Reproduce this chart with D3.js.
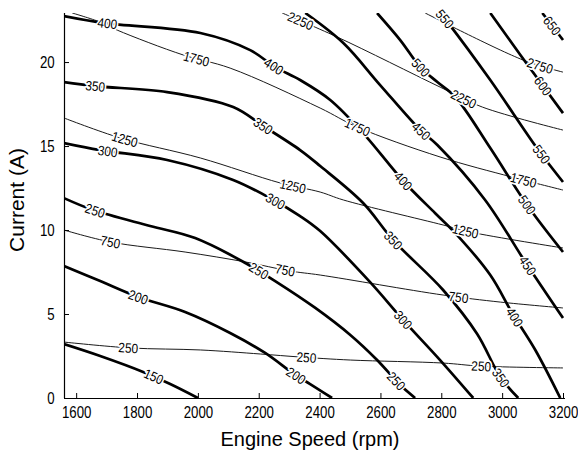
<!DOCTYPE html>
<html><head><meta charset="utf-8">
<script src="https://cdn.jsdelivr.net/npm/d3@7"></script>
<style>
html,body{margin:0;padding:0;background:#fff;}
svg{display:block;font-family:"Liberation Sans",Arial,sans-serif;}
</style></head>
<body><svg id="chart" width="578" height="454"></svg>
<script>
// axis ticks
const rpmTicks = [1600, 1800, 2000, 2200, 2400, 2600, 2800, 3000, 3200];
const currentTicks = [0, 5, 10, 15, 20];

// heavy contour family: [engine speed (rpm), current (A)]
const heavy150 = [[1560,3.21],[1679,2.5],[1820,1.55],[1909,0.83],[2000,0]];
const heavy200 = [[1560,7.86],[1679,6.96],[1804,6.01],[1958,5.12],[2106,3.87],[2221,2.68],[2320,1.37],[2369,0.83],[2441,0]];
const heavy250 = [[1560,11.9],[1656,11.19],[1843,10.24],[1991,9.52],[2156,8.04],[2254,6.96],[2386,5.36],[2501,3.75],[2589,2.26],[2665,0.77],[2714,0]];
const heavy300 = [[1560,15.18],[1679,14.76],[1899,14.17],[2116,12.98],[2248,11.79],[2336,10.83],[2402,9.94],[2566,6.9],[2675,4.64],[2796,2.26],[2905,0]];
const heavy350 = [[1560,18.81],[1662,18.57],[1899,18.21],[2116,17.32],[2215,16.19],[2336,14.76],[2402,13.81],[2543,11.61],[2642,9.4],[2806,6.43],[2918,3.81],[2994,1.25],[3053,0]];
const heavy400 = [[1560,22.74],[1695,22.32],[2008,21.73],[2172,20.71],[2254,19.7],[2336,18.93],[2435,17.74],[2543,15.77],[2675,12.92],[2780,11.0],[2846,9.82],[2961,7.32],[3033,5.06],[3109,2.86],[3191,0]];
const heavy450 = [[2353,22.92],[2478,21.13],[2599,18.63],[2731,15.95],[2787,15.06],[2944,11.79],[3076,8.1],[3200,4.76]];
const heavy500 = [[2589,22.92],[2665,21.31],[2731,19.7],[2787,18.81],[2846,17.92],[2961,14.88],[3082,11.49],[3200,8.69]];
const heavy550 = [[2796,22.92],[2823,22.32],[2961,18.93],[3119,14.76],[3200,12.86]];
const heavy600 = [[2961,22.92],[3060,20.42],[3200,16.96]];
const heavy650 = [[3132,22.92],[3200,21.31]];

// light contour family
const light250 = [[1560,3.33],[1777,2.98],[2008,2.86],[2205,2.62],[2336,2.44],[2501,2.26],[2806,2.08],[2928,1.9],[3200,1.79]];
const light750 = [[1560,10.0],[1712,9.29],[1958,8.69],[2156,8.1],[2303,7.56],[2402,7.32],[2806,6.13],[2994,5.71],[3200,5.36]];
const light1250 = [[1560,16.67],[1745,15.48],[2008,14.29],[2271,12.8],[2402,12.26],[2478,11.79],[2806,10.3],[2895,9.88],[3200,8.93]];
const light1750 = [[1587,22.92],[1679,22.38],[1735,21.9],[1952,20.42],[2106,19.64],[2402,17.26],[2524,16.13],[2796,14.35],[3033,13.15],[3200,12.38]];
const light2250 = [[2277,22.92],[2458,21.49],[2796,18.51],[2935,17.32],[3200,15.95]];
const light2750 = [[2747,22.92],[3069,20.12],[3200,19.4]];

// inline labels: [level, rpm, current]
const heavyLabels = [
  [150,1853,1.19],[200,1804,6.0],[200,2320,1.25],[250,1662,11.19],[250,2198,7.5],[250,2649,0.95],
  [300,1705,14.76],[300,2254,11.67],[300,2675,4.64],[350,1662,18.51],[350,2215,16.19],[350,2642,9.4],
  [350,3010,1.37],[400,1702,22.26],[400,2248,19.7],[400,2675,12.92],[400,3040,4.82],[450,2731,15.83],
  [450,3076,7.8],[500,2734,19.7],[500,3082,11.49],[550,2806,22.5],[550,3119,14.35],[600,3125,18.45],
  [650,3158,22.08]
];
const lightLabels = [
  [250,1771,2.98],[250,2356,2.38],[250,2931,1.79],[750,1712,9.29],[750,2287,7.56],[750,2856,5.95],
  [1250,1761,15.42],[1250,2313,12.68],[1250,2879,9.88],[1750,1991,19.94],[1750,2524,16.07],[1750,3069,12.86],
  [2250,2336,22.38],[2250,2872,17.74],[2750,3125,19.82]
];

const heavyLines = [[150,heavy150],[200,heavy200],[250,heavy250],[300,heavy300],[350,heavy350],[400,heavy400],
  [450,heavy450],[500,heavy500],[550,heavy550],[600,heavy600],[650,heavy650]];
const lightLines = [[250,light250],[750,light750],[1250,light1250],[1750,light1750],[2250,light2250],[2750,light2750]];

const plotLeft = 64, plotRight = 563, plotTop = 13, plotBottom = 398;

const x = d3.scaleLinear().domain([1560, 3200]).range([plotLeft, plotRight]);
const y = d3.scaleLinear().domain([0, 22.92]).range([plotBottom, plotTop]);

const svg = d3.select("#chart");

svg.append("defs").append("clipPath").attr("id", "plotClip")
  .append("rect").attr("x", plotLeft).attr("y", plotTop)
  .attr("width", plotRight - plotLeft + 2).attr("height", plotBottom - plotTop);

const line = d3.line().x(d => x(d[0])).y(d => y(d[1])).curve(d3.curveCatmullRom.alpha(0.5));

const plot = svg.append("g").attr("clip-path", "url(#plotClip)");

const lightPaths = new Map();
lightLines.forEach(([lvl, pts]) => {
  const p = plot.append("path").datum(pts).attr("d", line)
    .attr("fill", "none").attr("stroke", "#1a1a1a").attr("stroke-width", 1);
  lightPaths.set(lvl, p.node());
});
const heavyPaths = new Map();
heavyLines.forEach(([lvl, pts]) => {
  const p = plot.append("path").datum(pts).attr("d", line)
    .attr("fill", "none").attr("stroke", "#000").attr("stroke-width", 2.7)
    .attr("stroke-linejoin", "round");
  heavyPaths.set(lvl, p.node());
});

// put a label onto the nearest point of its contour, aligned with the local direction
function anchorOn(node, px, py) {
  const L = node.getTotalLength();
  let best = 0, bestD = Infinity;
  for (let s = 0; s <= L; s += 0.5) {
    const p = node.getPointAtLength(s);
    const d = (p.x - px) ** 2 + (p.y - py) ** 2;
    if (d < bestD) { bestD = d; best = s; }
  }
  const p = node.getPointAtLength(best);
  const a = node.getPointAtLength(Math.max(0, best - 6));
  const b = node.getPointAtLength(Math.min(L, best + 6));
  let ang = Math.atan2(b.y - a.y, b.x - a.x) * 180 / Math.PI;
  if (ang > 90) ang -= 180;
  if (ang < -90) ang += 180;
  return { x: p.x, y: p.y, ang };
}

const labelLayer = svg.append("g");
function drawLabels(list, paths) {
  list.forEach(([lvl, r, c]) => {
    const pos = anchorOn(paths.get(lvl), x(r), y(c));
    labelLayer.append("text")
      .attr("transform", `translate(${pos.x},${pos.y}) rotate(${pos.ang}) scale(0.88,1)`)
      .attr("text-anchor", "middle").attr("dy", "0.36em")
      .attr("font-size", 13.5)
      .attr("fill", "#000").attr("stroke", "#fff").attr("stroke-width", 3.5)
      .attr("stroke-linejoin", "round").attr("paint-order", "stroke")
      .text(lvl);
  });
}
drawLabels(lightLabels, lightPaths);
drawLabels(heavyLabels, heavyPaths);

// axes with inward ticks
const xAxis = svg.append("g").attr("transform", `translate(0,${plotBottom})`)
  .call(d3.axisBottom(x).tickValues(rpmTicks).tickFormat(d3.format("d"))
    .tickSizeInner(-5).tickSizeOuter(0).tickPadding(7.5));
const yAxis = svg.append("g").attr("transform", `translate(${plotLeft},0)`)
  .call(d3.axisLeft(y).tickValues(currentTicks).tickFormat(d3.format("d"))
    .tickSizeInner(-5).tickSizeOuter(0).tickPadding(12));

[xAxis, yAxis].forEach(g => {
  g.select(".domain").attr("stroke", "#000").attr("stroke-width", 1.2);
  g.selectAll(".tick line").attr("stroke", "#000").attr("stroke-width", 1);
  g.selectAll(".tick text").attr("font-size", 17).attr("fill", "#000")
    .attr("font-family", '"Liberation Sans",Arial,sans-serif')
    .attr("transform", "scale(0.78,1)");
});
xAxis.select(".domain").attr("d", `M${plotLeft},0.5H${plotRight + 2}`);
yAxis.select(".domain").attr("d", `M0.5,${plotTop}V${plotBottom}`);

svg.append("text").attr("x", 310).attr("y", 446).attr("text-anchor", "middle")
  .attr("font-size", 20).attr("fill", "#000").text("Engine Speed (rpm)");
svg.append("text").attr("transform", `translate(24,200) rotate(-90)`).attr("text-anchor", "middle")
  .attr("font-size", 21).attr("fill", "#000").text("Current (A)");
</script>
</body></html>
